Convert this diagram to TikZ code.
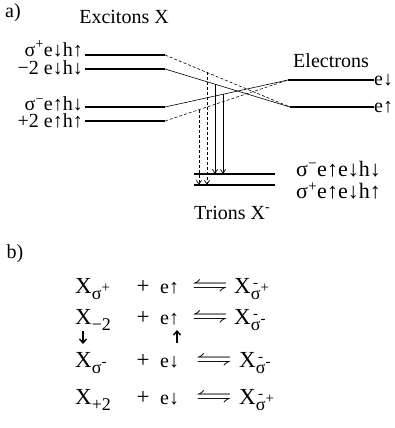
\documentclass[tikz,border=0pt]{standalone}
\usepackage{amsmath,amssymb}
\usepackage{fontspec}
\setmainfont{Liberation Serif}
\usetikzlibrary{arrows.meta,calc}
% small lowered / raised pieces for the X symbols
\newcommand{\lowr}[1]{\raisebox{-0.6ex}{\fontsize{18}{18}\selectfont #1}}
\newcommand{\hig}[1]{\raisebox{0.8ex}{\fontsize{15}{15}\selectfont #1}}
\newcommand{\trn}[1]{X\lowr{\shortstack{\fontsize{15}{12}\selectfont -\\σ}\hig{#1}}}
\newcommand{\hrp}{\scalebox{1.6}[1]{$\leftrightharpoons$}}

\begin{document}
\begin{tikzpicture}[x=1pt, y=-1pt,
    lvl/.style={line width=1.1pt},
    slant/.style={line width=0.6pt},
    dslant/.style={slant, densely dashed},
    trans/.style={-{Straight Barb[length=4pt,width=5pt]}, line width=0.7pt},
    dtrans/.style={trans, densely dashed},
    flip/.style={-{Straight Barb[length=4pt,width=7pt]}, line width=1.4pt},
    head/.style={inner sep=0pt, font=\fontsize{20}{20}\selectfont},
    lbl/.style={inner sep=0pt, font=\fontsize{20}{20}\selectfont},
    tlbl/.style={inner sep=0pt, font=\fontsize{22}{22}\selectfont},
    eqn/.style={inner sep=0pt, anchor=base west, font=\fontsize{23}{23}\selectfont},
    spin/.style={inner sep=0pt, font=\fontsize{20}{20}\selectfont}]
  \useasboundingbox (0,0) rectangle (394,428);
  % --- a) titles ---
  \node[head] (pa) at (13,13) {a)};
  \node[head] (exc) at (124,17) {Excitons X};
  \node[head] (ele) at (331,61) {Electrons};
  \node[head, anchor=west] (tri) at (194,213) {Trions X\textsuperscript{-}};
  % --- exciton levels ---
  \node[lbl, anchor=east] (xs1) at (83,49) {σ\textsuperscript{+}e↓h↑};
  \node[lbl, anchor=east] (xs2) at (83,68) {−2 e↓h↓};
  \node[lbl, anchor=east] (xs3) at (83,104) {σ\textsuperscript{−}e↑h↓};
  \node[lbl, anchor=east] (xs4) at (83,121) {+2 e↑h↑};
  \coordinate (l1) at (85,55);  \coordinate (b1) at (165,55);
  \coordinate (l2) at (85,69);  \coordinate (b2) at (165,69);
  \coordinate (l3) at (85,107); \coordinate (b3) at (165,107);
  \coordinate (l4) at (85,121); \coordinate (b4) at (165,121);
  \foreach \i in {1,...,4}
    \draw[lvl] (l\i) -- (b\i);
  % --- electron levels ---
  \node[lbl, anchor=west] (edn) at (374,80) {e↓};
  \node[lbl, anchor=west] (eup) at (374,107) {e↑};
  \coordinate (ed) at (288,80);
  \coordinate (eu) at (290,107);
  \draw[lvl] (ed) -- (edn.west);
  \draw[lvl] (eu) -- (eup.west);
  % --- crossing lines ---
  \draw[dslant] (b1) -- (eu);
  \draw[slant]  (b2) -- (eu);
  \draw[slant]  (b3) -- (ed);
  \draw[dslant] (b4) -- (ed);
  % --- trion levels ---
  \coordinate (thi) at (194,174); \coordinate (thr) at (275,174);
  \coordinate (tlo) at (194,185); \coordinate (tlr) at (275,185);
  \draw[lvl] (thi) -- (thr);
  \draw[lvl] (tlo) -- (tlr);
  \node[tlbl, anchor=west] (tm) at (296,169) {σ\textsuperscript{−}e↑e↓h↓};
  \node[tlbl, anchor=west] (tp) at (296,191) {σ\textsuperscript{+}e↑e↓h↑};
  % --- transitions ---
  \coordinate (v1) at ($(b4)!0.276!(ed)$);
  \coordinate (v2) at ($(b1)!0.336!(eu)$);
  \coordinate (v3) at ($(b2)!0.4!(eu)$);
  \coordinate (v4) at ($(b3)!0.472!(ed)$);
  \draw[dtrans] (v1) -- (v1 |- tlo);
  \draw[dtrans] (v2) -- (v2 |- tlo);
  \draw[trans]  (v3) -- (v3 |- thi);
  \draw[trans]  (v4) -- (v4 |- thi);
  % --- b) reactions ---
  \node[head] (pb) at (15,254) {b)};
  \node[eqn] (x1) at (75,293) {X\lowr{σ\hig{+}}};
  \node[eqn] (x2) at (75,324) {X\lowr{−2}};
  \node[eqn] (x3) at (75,367) {X\lowr{σ\hig{-}}};
  \node[eqn] (x4) at (75,404) {X\lowr{+2}};
  \foreach \r/\y in {1/293,2/324,3/367,4/404}
    \node[eqn, anchor=base] (p\r) at (143,\y) {+};
  \node[spin, anchor=base west] (e1) at (160,293) {e↑};
  \node[spin, anchor=base west] (e2) at (160,324) {e↑};
  \node[spin, anchor=base west] (e3) at (160,367) {e↓};
  \node[spin, anchor=base west] (e4) at (160,404) {e↓};
  \node[eqn, anchor=base] (h1) at (210,291) {\hrp};
  \node[eqn, anchor=base] (h2) at (210,322) {\hrp};
  \node[eqn, anchor=base] (h3) at (214,365) {\hrp};
  \node[eqn, anchor=base] (h4) at (214,402) {\hrp};
  \node[eqn] (t1) at (234,293) {\trn{+}};
  \node[eqn] (t2) at (234,324) {\trn{-}};
  \node[eqn] (t3) at (239,367) {\trn{-}};
  \node[eqn] (t4) at (239,404) {\trn{+}};
  % --- spin flips ---
  \coordinate (fl1) at (83,331); \coordinate (fl2) at (83,344);
  \coordinate (fu1) at (177,343); \coordinate (fu2) at (177,330);
  \draw[flip] (fl1) -- (fl2);
  \draw[flip] (fu1) -- (fu2);
\end{tikzpicture}
\end{document}
